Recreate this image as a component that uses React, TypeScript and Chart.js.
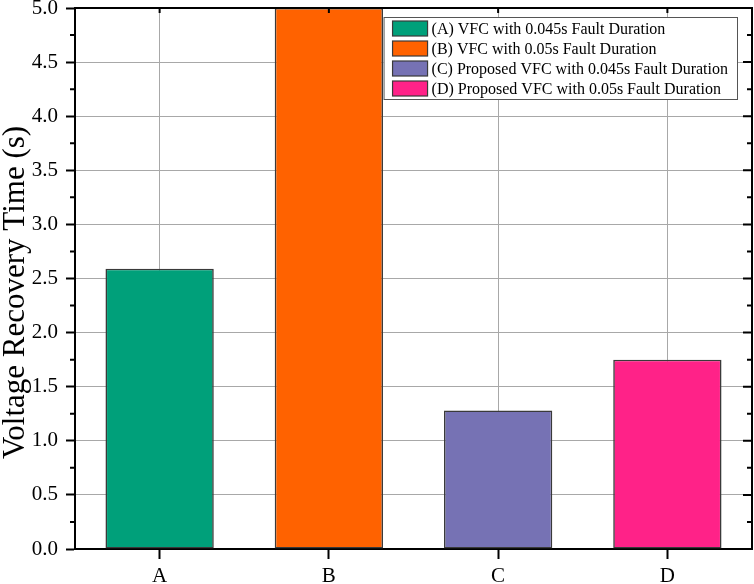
import { useEffect, useRef } from 'react'
import { Chart, registerables } from 'chart.js'
Chart.register(...registerables)

const categories = ['A', 'B', 'C', 'D']
const recoveryTimes = [2.59, 5.0, 1.28, 1.75]
const barColors = ['#00A07A', '#FF6200', '#7672B4', '#FF2288']
const legendLabels = [
  '(A) VFC with 0.045s Fault Duration',
  '(B) VFC with 0.05s Fault Duration',
  '(C) Proposed VFC with 0.045s Fault Duration',
  '(D) Proposed VFC with 0.05s Fault Duration',
]
const yTitle = 'Voltage Recovery Time (s)'
const yMin = 0
const yMax = 5
const yStep = 0.5

const serif = "'Liberation Serif', 'Times New Roman', serif"

// right/top frame with inward ticks, minor ticks on the left axis, y title
const framePlugin = {
  id: 'frame',
  afterDraw(chart: any) {
    const { ctx, chartArea: a, scales } = chart
    const x = scales.x
    const y = scales.y
    ctx.save()
    ctx.strokeStyle = '#000'
    ctx.lineWidth = 2
    ctx.beginPath()
    ctx.moveTo(a.left - 1, a.top)
    ctx.lineTo(a.right, a.top)
    ctx.lineTo(a.right, a.bottom + 1)
    ctx.stroke()

    ctx.beginPath()
    const n = Math.round((yMax - yMin) / (yStep / 2))
    for (let i = 0; i <= n; i++) {
      const v = yMin + (i * yStep) / 2
      const py = y.getPixelForValue(v)
      const major = i % 2 === 0
      ctx.moveTo(a.right, py)
      ctx.lineTo(a.right - (major ? 9 : 5), py)
      if (!major) {
        ctx.moveTo(a.left, py)
        ctx.lineTo(a.left - 5, py)
      }
    }
    x.ticks.forEach((_: any, i: number) => {
      const px = x.getPixelForTick(i)
      ctx.moveTo(px, a.top)
      ctx.lineTo(px, a.top + 5)
    })
    ctx.stroke()

    // axis title, sits a little below the plot's middle in the original
    ctx.translate(16, (a.top + a.bottom) / 2 + 14)
    ctx.rotate(-Math.PI / 2)
    ctx.font = `31px ${serif}`
    ctx.fillStyle = '#000'
    ctx.textAlign = 'center'
    ctx.textBaseline = 'middle'
    ctx.fillText(yTitle, 0, 0)
    ctx.restore()
  },
}

const legendPlugin = {
  id: 'insideLegend',
  afterDraw(chart: any) {
    const { ctx, chartArea: a } = chart
    ctx.save()
    ctx.font = `16px ${serif}`
    const textW = Math.max(...legendLabels.map((t) => ctx.measureText(t).width))
    const rowH = 20
    const swW = 35
    const swH = 15
    const w = 48 + textW + 9
    const h = legendLabels.length * rowH + 2
    const left = a.right - 15 - w
    const top = a.top + 9
    ctx.fillStyle = '#fff'
    ctx.fillRect(left, top, w, h)
    ctx.strokeStyle = '#555'
    ctx.lineWidth = 1
    ctx.strokeRect(left + 0.5, top + 0.5, w, h)
    ctx.textBaseline = 'middle'
    legendLabels.forEach((label, i) => {
      const cy = top + 11.5 + i * rowH
      ctx.fillStyle = barColors[i]
      ctx.fillRect(left + 9, cy - swH / 2, swW, swH)
      ctx.strokeStyle = '#3a3a3a'
      ctx.lineWidth = 1.2
      ctx.strokeRect(left + 9, cy - swH / 2, swW, swH)
      ctx.fillStyle = '#000'
      ctx.fillText(label, left + 48, cy + 1)
    })
    ctx.restore()
  },
}

export default function App() {
  const canvasRef = useRef<HTMLCanvasElement>(null)
  const chartRef = useRef<Chart | null>(null)

  useEffect(() => {
    if (!canvasRef.current) return
    if (chartRef.current) chartRef.current.destroy()

    chartRef.current = new Chart(canvasRef.current, {
      type: 'bar',
      data: {
        labels: categories,
        datasets: [
          {
            data: recoveryTimes,
            backgroundColor: barColors,
            borderColor: '#3a3a3a',
            borderWidth: 1.6,
            borderSkipped: false,
            barPercentage: 0.64,
            categoryPercentage: 1,
          },
        ],
      },
      options: {
        responsive: false,
        animation: false,
        devicePixelRatio: 1,
        layout: { padding: { top: 8, right: 2, left: 0, bottom: 0 } },
        plugins: {
          legend: { display: false },
          tooltip: { enabled: false },
        },
        scales: {
          x: {
            offset: true,
            grid: {
              offset: false,
              color: '#a8a8a8',
              lineWidth: 1,
              tickColor: '#000',
              tickLength: 10,
              tickWidth: 2,
            },
            border: { color: '#000', width: 2 },
            ticks: {
              color: '#000',
              padding: 5,
              font: { family: serif, size: 21 },
            },
            afterFit: (s: any) => {
              s.height = 35
              s.paddingLeft = 0
              s.paddingRight = 0
            },
          },
          y: {
            min: yMin,
            max: yMax,
            grid: {
              color: '#a8a8a8',
              lineWidth: 1,
              tickColor: '#000',
              tickLength: 9,
              tickWidth: 2,
            },
            border: { color: '#000', width: 2 },
            ticks: {
              stepSize: yStep,
              color: '#000',
              padding: 8,
              font: { family: serif, size: 21 },
              callback: (v: any) => Number(v).toFixed(1),
            },
            afterFit: (s: any) => {
              s.width = 75
              s.paddingTop = 0
              s.paddingBottom = 0
            },
          },
        },
      },
      plugins: [framePlugin, legendPlugin],
    })

    return () => {
      if (chartRef.current) {
        chartRef.current.destroy()
        chartRef.current = null
      }
    }
  }, [])

  return (
    <div style={{ position: 'absolute', left: 0, top: 0, width: 754, height: 584, background: '#fff' }}>
      <canvas ref={canvasRef} width={754} height={584} />
    </div>
  )
}
